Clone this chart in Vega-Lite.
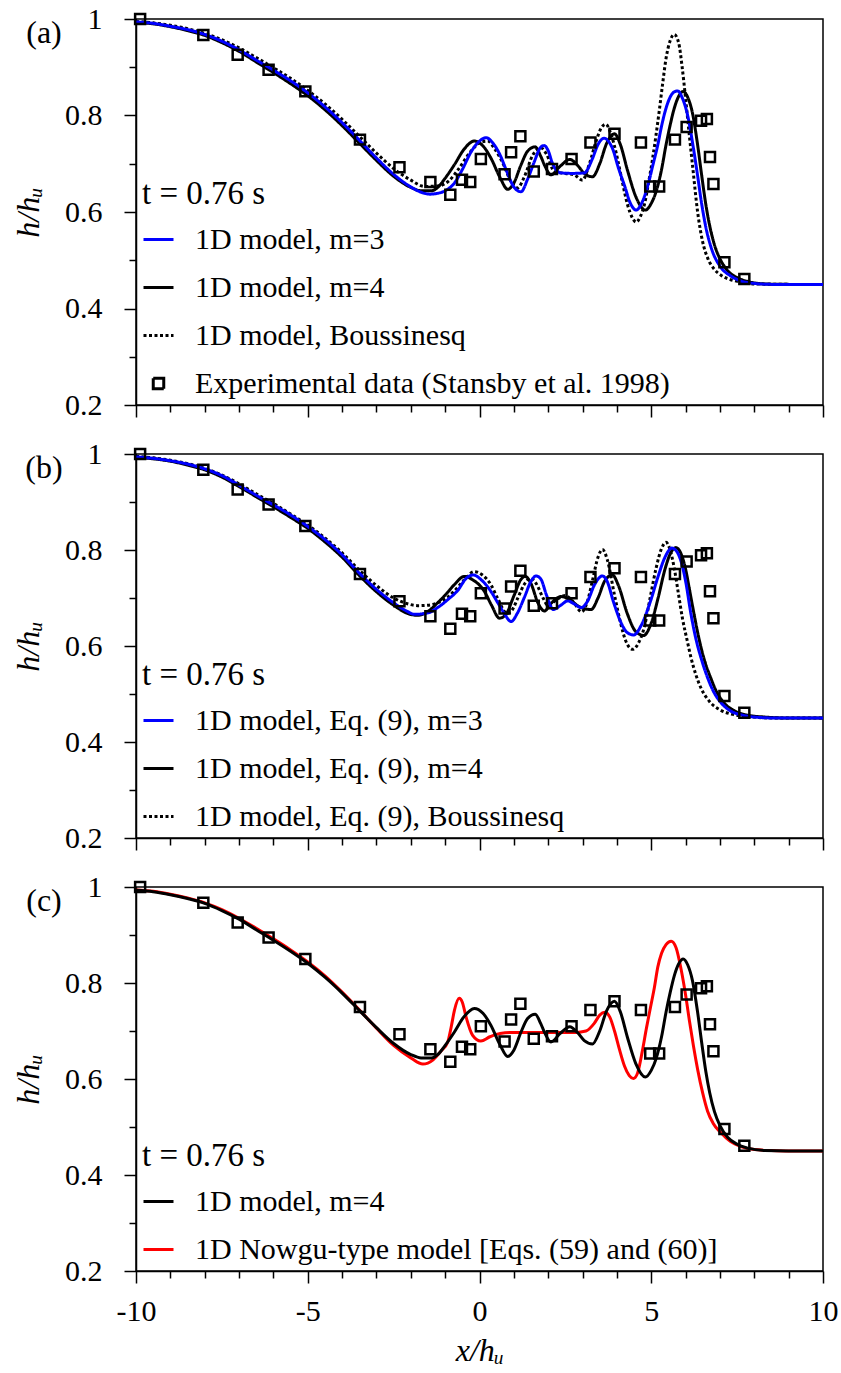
{
  "$schema": "https://vega.github.io/schema/vega-lite/v6.json",
  "padding": {"left": 11, "top": 3, "right": 0, "bottom": 0},
  "bounds": "flush",
  "spacing": 49,
  "resolve": {
    "scale": {"stroke": "independent", "strokeDash": "independent", "shape": "independent"},
    "legend": {"stroke": "independent", "strokeDash": "independent", "shape": "independent"}
  },
  "datasets": {
    "bqa": [
      {"s":"1D model, Boussinesq","x":-10,"h":0.995},{"s":"1D model, Boussinesq","x":-9.5,"h":0.992},{"s":"1D model, Boussinesq","x":-9,"h":0.987},{"s":"1D model, Boussinesq","x":-8.5,"h":0.98},{"s":"1D model, Boussinesq","x":-8,"h":0.97},{"s":"1D model, Boussinesq","x":-7.5,"h":0.957},{"s":"1D model, Boussinesq","x":-7,"h":0.94},{"s":"1D model, Boussinesq","x":-6.5,"h":0.92},{"s":"1D model, Boussinesq","x":-6,"h":0.899},{"s":"1D model, Boussinesq","x":-5.5,"h":0.877},{"s":"1D model, Boussinesq","x":-5,"h":0.852},{"s":"1D model, Boussinesq","x":-4.5,"h":0.824},{"s":"1D model, Boussinesq","x":-4,"h":0.792},{"s":"1D model, Boussinesq","x":-3.5,"h":0.757},{"s":"1D model, Boussinesq","x":-3,"h":0.722},{"s":"1D model, Boussinesq","x":-2.5,"h":0.69},{"s":"1D model, Boussinesq","x":-2,"h":0.666},{"s":"1D model, Boussinesq","x":-1.6,"h":0.653},{"s":"1D model, Boussinesq","x":-1.2,"h":0.654},{"s":"1D model, Boussinesq","x":-0.9,"h":0.664},{"s":"1D model, Boussinesq","x":-0.6,"h":0.69},{"s":"1D model, Boussinesq","x":-0.25,"h":0.726},{"s":"1D model, Boussinesq","x":0.05,"h":0.745},{"s":"1D model, Boussinesq","x":0.24,"h":0.747},{"s":"1D model, Boussinesq","x":0.45,"h":0.73},{"s":"1D model, Boussinesq","x":0.72,"h":0.695},{"s":"1D model, Boussinesq","x":0.9,"h":0.665},{"s":"1D model, Boussinesq","x":1.11,"h":0.65},{"s":"1D model, Boussinesq","x":1.3,"h":0.672},{"s":"1D model, Boussinesq","x":1.55,"h":0.718},{"s":"1D model, Boussinesq","x":1.79,"h":0.733},{"s":"1D model, Boussinesq","x":1.95,"h":0.72},{"s":"1D model, Boussinesq","x":2.18,"h":0.684},{"s":"1D model, Boussinesq","x":2.5,"h":0.68},{"s":"1D model, Boussinesq","x":2.76,"h":0.677},{"s":"1D model, Boussinesq","x":3.0,"h":0.666},{"s":"1D model, Boussinesq","x":3.2,"h":0.7},{"s":"1D model, Boussinesq","x":3.4,"h":0.748},{"s":"1D model, Boussinesq","x":3.55,"h":0.775},{"s":"1D model, Boussinesq","x":3.68,"h":0.782},{"s":"1D model, Boussinesq","x":3.82,"h":0.763},{"s":"1D model, Boussinesq","x":3.97,"h":0.725},{"s":"1D model, Boussinesq","x":4.15,"h":0.665},{"s":"1D model, Boussinesq","x":4.31,"h":0.615},{"s":"1D model, Boussinesq","x":4.45,"h":0.588},{"s":"1D model, Boussinesq","x":4.56,"h":0.579},{"s":"1D model, Boussinesq","x":4.68,"h":0.59},{"s":"1D model, Boussinesq","x":4.8,"h":0.615},{"s":"1D model, Boussinesq","x":4.92,"h":0.66},{"s":"1D model, Boussinesq","x":5.04,"h":0.711},{"s":"1D model, Boussinesq","x":5.14,"h":0.76},{"s":"1D model, Boussinesq","x":5.23,"h":0.808},{"s":"1D model, Boussinesq","x":5.33,"h":0.865},{"s":"1D model, Boussinesq","x":5.43,"h":0.918},{"s":"1D model, Boussinesq","x":5.55,"h":0.955},{"s":"1D model, Boussinesq","x":5.67,"h":0.968},{"s":"1D model, Boussinesq","x":5.8,"h":0.95},{"s":"1D model, Boussinesq","x":5.9,"h":0.9},{"s":"1D model, Boussinesq","x":6.0,"h":0.835},{"s":"1D model, Boussinesq","x":6.1,"h":0.765},{"s":"1D model, Boussinesq","x":6.21,"h":0.691},{"s":"1D model, Boussinesq","x":6.35,"h":0.6},{"s":"1D model, Boussinesq","x":6.5,"h":0.537},{"s":"1D model, Boussinesq","x":6.64,"h":0.505},{"s":"1D model, Boussinesq","x":6.84,"h":0.481},{"s":"1D model, Boussinesq","x":7.03,"h":0.469},{"s":"1D model, Boussinesq","x":7.3,"h":0.46},{"s":"1D model, Boussinesq","x":7.61,"h":0.455},{"s":"1D model, Boussinesq","x":8,"h":0.451},{"s":"1D model, Boussinesq","x":9,"h":0.45},{"s":"1D model, Boussinesq","x":10,"h":0.45}
    ],
    "m4": [
      {"s":"1D model, m=4","x":-10,"h":0.993},{"s":"1D model, m=4","x":-9.5,"h":0.99},{"s":"1D model, m=4","x":-9,"h":0.984},{"s":"1D model, m=4","x":-8.5,"h":0.976},{"s":"1D model, m=4","x":-8,"h":0.966},{"s":"1D model, m=4","x":-7.5,"h":0.951},{"s":"1D model, m=4","x":-7,"h":0.933},{"s":"1D model, m=4","x":-6.5,"h":0.911},{"s":"1D model, m=4","x":-6,"h":0.889},{"s":"1D model, m=4","x":-5.5,"h":0.866},{"s":"1D model, m=4","x":-5,"h":0.841},{"s":"1D model, m=4","x":-4.5,"h":0.812},{"s":"1D model, m=4","x":-4,"h":0.779},{"s":"1D model, m=4","x":-3.5,"h":0.743},{"s":"1D model, m=4","x":-3,"h":0.707},{"s":"1D model, m=4","x":-2.5,"h":0.674},{"s":"1D model, m=4","x":-2,"h":0.651},{"s":"1D model, m=4","x":-1.7,"h":0.644},{"s":"1D model, m=4","x":-1.4,"h":0.644},{"s":"1D model, m=4","x":-1.2,"h":0.652},{"s":"1D model, m=4","x":-1.0,"h":0.67},{"s":"1D model, m=4","x":-0.73,"h":0.698},{"s":"1D model, m=4","x":-0.45,"h":0.73},{"s":"1D model, m=4","x":-0.15,"h":0.747},{"s":"1D model, m=4","x":0.1,"h":0.737},{"s":"1D model, m=4","x":0.33,"h":0.712},{"s":"1D model, m=4","x":0.6,"h":0.671},{"s":"1D model, m=4","x":0.82,"h":0.647},{"s":"1D model, m=4","x":1.0,"h":0.66},{"s":"1D model, m=4","x":1.21,"h":0.698},{"s":"1D model, m=4","x":1.4,"h":0.726},{"s":"1D model, m=4","x":1.62,"h":0.735},{"s":"1D model, m=4","x":1.78,"h":0.716},{"s":"1D model, m=4","x":1.9,"h":0.696},{"s":"1D model, m=4","x":2.08,"h":0.677},{"s":"1D model, m=4","x":2.35,"h":0.695},{"s":"1D model, m=4","x":2.63,"h":0.709},{"s":"1D model, m=4","x":2.85,"h":0.697},{"s":"1D model, m=4","x":3.05,"h":0.68},{"s":"1D model, m=4","x":3.29,"h":0.673},{"s":"1D model, m=4","x":3.5,"h":0.7},{"s":"1D model, m=4","x":3.7,"h":0.742},{"s":"1D model, m=4","x":3.93,"h":0.762},{"s":"1D model, m=4","x":4.1,"h":0.74},{"s":"1D model, m=4","x":4.31,"h":0.686},{"s":"1D model, m=4","x":4.55,"h":0.632},{"s":"1D model, m=4","x":4.83,"h":0.604},{"s":"1D model, m=4","x":5.0,"h":0.618},{"s":"1D model, m=4","x":5.14,"h":0.642},{"s":"1D model, m=4","x":5.3,"h":0.688},{"s":"1D model, m=4","x":5.43,"h":0.739},{"s":"1D model, m=4","x":5.55,"h":0.78},{"s":"1D model, m=4","x":5.67,"h":0.815},{"s":"1D model, m=4","x":5.8,"h":0.84},{"s":"1D model, m=4","x":5.93,"h":0.85},{"s":"1D model, m=4","x":6.06,"h":0.838},{"s":"1D model, m=4","x":6.2,"h":0.805},{"s":"1D model, m=4","x":6.35,"h":0.739},{"s":"1D model, m=4","x":6.47,"h":0.675},{"s":"1D model, m=4","x":6.59,"h":0.615},{"s":"1D model, m=4","x":6.7,"h":0.572},{"s":"1D model, m=4","x":6.84,"h":0.532},{"s":"1D model, m=4","x":7.0,"h":0.503},{"s":"1D model, m=4","x":7.23,"h":0.478},{"s":"1D model, m=4","x":7.5,"h":0.464},{"s":"1D model, m=4","x":7.81,"h":0.456},{"s":"1D model, m=4","x":8.3,"h":0.451},{"s":"1D model, m=4","x":9,"h":0.45},{"s":"1D model, m=4","x":10,"h":0.45}
    ],
    "m3a": [
      {"s":"1D model, m=3","x":-10,"h":0.994},{"s":"1D model, m=3","x":-9.5,"h":0.991},{"s":"1D model, m=3","x":-9,"h":0.985},{"s":"1D model, m=3","x":-8.5,"h":0.978},{"s":"1D model, m=3","x":-8,"h":0.968},{"s":"1D model, m=3","x":-7.5,"h":0.954},{"s":"1D model, m=3","x":-7,"h":0.936},{"s":"1D model, m=3","x":-6.5,"h":0.915},{"s":"1D model, m=3","x":-6,"h":0.894},{"s":"1D model, m=3","x":-5.5,"h":0.872},{"s":"1D model, m=3","x":-5,"h":0.847},{"s":"1D model, m=3","x":-4.5,"h":0.818},{"s":"1D model, m=3","x":-4,"h":0.785},{"s":"1D model, m=3","x":-3.5,"h":0.749},{"s":"1D model, m=3","x":-3,"h":0.712},{"s":"1D model, m=3","x":-2.5,"h":0.678},{"s":"1D model, m=3","x":-2,"h":0.652},{"s":"1D model, m=3","x":-1.7,"h":0.641},{"s":"1D model, m=3","x":-1.45,"h":0.637},{"s":"1D model, m=3","x":-1.2,"h":0.639},{"s":"1D model, m=3","x":-0.95,"h":0.646},{"s":"1D model, m=3","x":-0.73,"h":0.66},{"s":"1D model, m=3","x":-0.5,"h":0.688},{"s":"1D model, m=3","x":-0.25,"h":0.724},{"s":"1D model, m=3","x":0,"h":0.747},{"s":"1D model, m=3","x":0.19,"h":0.754},{"s":"1D model, m=3","x":0.4,"h":0.742},{"s":"1D model, m=3","x":0.6,"h":0.718},{"s":"1D model, m=3","x":0.8,"h":0.683},{"s":"1D model, m=3","x":1.0,"h":0.652},{"s":"1D model, m=3","x":1.21,"h":0.642},{"s":"1D model, m=3","x":1.4,"h":0.668},{"s":"1D model, m=3","x":1.6,"h":0.705},{"s":"1D model, m=3","x":1.75,"h":0.731},{"s":"1D model, m=3","x":1.88,"h":0.738},{"s":"1D model, m=3","x":2.0,"h":0.727},{"s":"1D model, m=3","x":2.13,"h":0.7},{"s":"1D model, m=3","x":2.37,"h":0.681},{"s":"1D model, m=3","x":2.7,"h":0.68},{"s":"1D model, m=3","x":3.05,"h":0.681},{"s":"1D model, m=3","x":3.29,"h":0.711},{"s":"1D model, m=3","x":3.45,"h":0.74},{"s":"1D model, m=3","x":3.63,"h":0.753},{"s":"1D model, m=3","x":3.78,"h":0.744},{"s":"1D model, m=3","x":3.87,"h":0.732},{"s":"1D model, m=3","x":4.05,"h":0.69},{"s":"1D model, m=3","x":4.22,"h":0.655},{"s":"1D model, m=3","x":4.4,"h":0.617},{"s":"1D model, m=3","x":4.56,"h":0.604},{"s":"1D model, m=3","x":4.72,"h":0.618},{"s":"1D model, m=3","x":4.9,"h":0.655},{"s":"1D model, m=3","x":5.05,"h":0.698},{"s":"1D model, m=3","x":5.19,"h":0.739},{"s":"1D model, m=3","x":5.3,"h":0.778},{"s":"1D model, m=3","x":5.43,"h":0.815},{"s":"1D model, m=3","x":5.55,"h":0.838},{"s":"1D model, m=3","x":5.67,"h":0.849},{"s":"1D model, m=3","x":5.77,"h":0.851},{"s":"1D model, m=3","x":5.9,"h":0.837},{"s":"1D model, m=3","x":6.06,"h":0.8},{"s":"1D model, m=3","x":6.21,"h":0.74},{"s":"1D model, m=3","x":6.35,"h":0.675},{"s":"1D model, m=3","x":6.45,"h":0.625},{"s":"1D model, m=3","x":6.6,"h":0.565},{"s":"1D model, m=3","x":6.75,"h":0.525},{"s":"1D model, m=3","x":7.03,"h":0.485},{"s":"1D model, m=3","x":7.3,"h":0.468},{"s":"1D model, m=3","x":7.61,"h":0.457},{"s":"1D model, m=3","x":8,"h":0.452},{"s":"1D model, m=3","x":8.5,"h":0.45},{"s":"1D model, m=3","x":10,"h":0.45}
    ],
    "bqb": [
      {"s":"1D model, Eq. (9), Boussinesq","x":-10,"h":0.995},{"s":"1D model, Eq. (9), Boussinesq","x":-9.5,"h":0.992},{"s":"1D model, Eq. (9), Boussinesq","x":-9,"h":0.987},{"s":"1D model, Eq. (9), Boussinesq","x":-8.5,"h":0.98},{"s":"1D model, Eq. (9), Boussinesq","x":-8,"h":0.97},{"s":"1D model, Eq. (9), Boussinesq","x":-7.5,"h":0.956},{"s":"1D model, Eq. (9), Boussinesq","x":-7,"h":0.938},{"s":"1D model, Eq. (9), Boussinesq","x":-6.5,"h":0.917},{"s":"1D model, Eq. (9), Boussinesq","x":-6,"h":0.897},{"s":"1D model, Eq. (9), Boussinesq","x":-5.5,"h":0.875},{"s":"1D model, Eq. (9), Boussinesq","x":-5,"h":0.852},{"s":"1D model, Eq. (9), Boussinesq","x":-4.5,"h":0.825},{"s":"1D model, Eq. (9), Boussinesq","x":-4,"h":0.794},{"s":"1D model, Eq. (9), Boussinesq","x":-3.5,"h":0.758},{"s":"1D model, Eq. (9), Boussinesq","x":-3,"h":0.726},{"s":"1D model, Eq. (9), Boussinesq","x":-2.5,"h":0.7},{"s":"1D model, Eq. (9), Boussinesq","x":-2.1,"h":0.688},{"s":"1D model, Eq. (9), Boussinesq","x":-1.8,"h":0.684},{"s":"1D model, Eq. (9), Boussinesq","x":-1.5,"h":0.685},{"s":"1D model, Eq. (9), Boussinesq","x":-1.22,"h":0.69},{"s":"1D model, Eq. (9), Boussinesq","x":-0.95,"h":0.7},{"s":"1D model, Eq. (9), Boussinesq","x":-0.73,"h":0.715},{"s":"1D model, Eq. (9), Boussinesq","x":-0.44,"h":0.738},{"s":"1D model, Eq. (9), Boussinesq","x":-0.15,"h":0.755},{"s":"1D model, Eq. (9), Boussinesq","x":0.1,"h":0.747},{"s":"1D model, Eq. (9), Boussinesq","x":0.33,"h":0.728},{"s":"1D model, Eq. (9), Boussinesq","x":0.53,"h":0.699},{"s":"1D model, Eq. (9), Boussinesq","x":0.8,"h":0.668},{"s":"1D model, Eq. (9), Boussinesq","x":0.95,"h":0.675},{"s":"1D model, Eq. (9), Boussinesq","x":1.11,"h":0.699},{"s":"1D model, Eq. (9), Boussinesq","x":1.3,"h":0.728},{"s":"1D model, Eq. (9), Boussinesq","x":1.48,"h":0.741},{"s":"1D model, Eq. (9), Boussinesq","x":1.65,"h":0.73},{"s":"1D model, Eq. (9), Boussinesq","x":1.85,"h":0.7},{"s":"1D model, Eq. (9), Boussinesq","x":2.0,"h":0.684},{"s":"1D model, Eq. (9), Boussinesq","x":2.25,"h":0.697},{"s":"1D model, Eq. (9), Boussinesq","x":2.5,"h":0.705},{"s":"1D model, Eq. (9), Boussinesq","x":2.75,"h":0.69},{"s":"1D model, Eq. (9), Boussinesq","x":2.97,"h":0.671},{"s":"1D model, Eq. (9), Boussinesq","x":3.15,"h":0.695},{"s":"1D model, Eq. (9), Boussinesq","x":3.3,"h":0.74},{"s":"1D model, Eq. (9), Boussinesq","x":3.45,"h":0.785},{"s":"1D model, Eq. (9), Boussinesq","x":3.58,"h":0.801},{"s":"1D model, Eq. (9), Boussinesq","x":3.72,"h":0.78},{"s":"1D model, Eq. (9), Boussinesq","x":3.93,"h":0.706},{"s":"1D model, Eq. (9), Boussinesq","x":4.1,"h":0.65},{"s":"1D model, Eq. (9), Boussinesq","x":4.25,"h":0.612},{"s":"1D model, Eq. (9), Boussinesq","x":4.46,"h":0.593},{"s":"1D model, Eq. (9), Boussinesq","x":4.62,"h":0.605},{"s":"1D model, Eq. (9), Boussinesq","x":4.8,"h":0.64},{"s":"1D model, Eq. (9), Boussinesq","x":4.98,"h":0.705},{"s":"1D model, Eq. (9), Boussinesq","x":5.14,"h":0.762},{"s":"1D model, Eq. (9), Boussinesq","x":5.3,"h":0.803},{"s":"1D model, Eq. (9), Boussinesq","x":5.43,"h":0.816},{"s":"1D model, Eq. (9), Boussinesq","x":5.55,"h":0.8},{"s":"1D model, Eq. (9), Boussinesq","x":5.67,"h":0.762},{"s":"1D model, Eq. (9), Boussinesq","x":5.8,"h":0.705},{"s":"1D model, Eq. (9), Boussinesq","x":5.91,"h":0.657},{"s":"1D model, Eq. (9), Boussinesq","x":6.05,"h":0.61},{"s":"1D model, Eq. (9), Boussinesq","x":6.16,"h":0.575},{"s":"1D model, Eq. (9), Boussinesq","x":6.3,"h":0.54},{"s":"1D model, Eq. (9), Boussinesq","x":6.45,"h":0.512},{"s":"1D model, Eq. (9), Boussinesq","x":6.7,"h":0.484},{"s":"1D model, Eq. (9), Boussinesq","x":7.03,"h":0.466},{"s":"1D model, Eq. (9), Boussinesq","x":7.4,"h":0.457},{"s":"1D model, Eq. (9), Boussinesq","x":7.8,"h":0.453},{"s":"1D model, Eq. (9), Boussinesq","x":8.5,"h":0.45},{"s":"1D model, Eq. (9), Boussinesq","x":10,"h":0.45}
    ],
    "m4b": [
      {"s":"1D model, Eq. (9), m=4","x":-10,"h":0.993},{"s":"1D model, Eq. (9), m=4","x":-9.5,"h":0.99},{"s":"1D model, Eq. (9), m=4","x":-9,"h":0.985},{"s":"1D model, Eq. (9), m=4","x":-8.5,"h":0.977},{"s":"1D model, Eq. (9), m=4","x":-8,"h":0.967},{"s":"1D model, Eq. (9), m=4","x":-7.5,"h":0.952},{"s":"1D model, Eq. (9), m=4","x":-7,"h":0.932},{"s":"1D model, Eq. (9), m=4","x":-6.5,"h":0.911},{"s":"1D model, Eq. (9), m=4","x":-6,"h":0.89},{"s":"1D model, Eq. (9), m=4","x":-5.5,"h":0.868},{"s":"1D model, Eq. (9), m=4","x":-5,"h":0.845},{"s":"1D model, Eq. (9), m=4","x":-4.5,"h":0.817},{"s":"1D model, Eq. (9), m=4","x":-4,"h":0.785},{"s":"1D model, Eq. (9), m=4","x":-3.5,"h":0.747},{"s":"1D model, Eq. (9), m=4","x":-3,"h":0.713},{"s":"1D model, Eq. (9), m=4","x":-2.5,"h":0.685},{"s":"1D model, Eq. (9), m=4","x":-2.1,"h":0.668},{"s":"1D model, Eq. (9), m=4","x":-1.8,"h":0.664},{"s":"1D model, Eq. (9), m=4","x":-1.5,"h":0.672},{"s":"1D model, Eq. (9), m=4","x":-1.22,"h":0.69},{"s":"1D model, Eq. (9), m=4","x":-0.95,"h":0.71},{"s":"1D model, Eq. (9), m=4","x":-0.73,"h":0.728},{"s":"1D model, Eq. (9), m=4","x":-0.44,"h":0.745},{"s":"1D model, Eq. (9), m=4","x":-0.2,"h":0.738},{"s":"1D model, Eq. (9), m=4","x":0.14,"h":0.714},{"s":"1D model, Eq. (9), m=4","x":0.35,"h":0.685},{"s":"1D model, Eq. (9), m=4","x":0.58,"h":0.658},{"s":"1D model, Eq. (9), m=4","x":0.75,"h":0.664},{"s":"1D model, Eq. (9), m=4","x":1.01,"h":0.706},{"s":"1D model, Eq. (9), m=4","x":1.2,"h":0.738},{"s":"1D model, Eq. (9), m=4","x":1.33,"h":0.745},{"s":"1D model, Eq. (9), m=4","x":1.5,"h":0.73},{"s":"1D model, Eq. (9), m=4","x":1.7,"h":0.69},{"s":"1D model, Eq. (9), m=4","x":1.89,"h":0.673},{"s":"1D model, Eq. (9), m=4","x":2.1,"h":0.69},{"s":"1D model, Eq. (9), m=4","x":2.37,"h":0.703},{"s":"1D model, Eq. (9), m=4","x":2.6,"h":0.698},{"s":"1D model, Eq. (9), m=4","x":2.9,"h":0.682},{"s":"1D model, Eq. (9), m=4","x":3.25,"h":0.676},{"s":"1D model, Eq. (9), m=4","x":3.45,"h":0.7},{"s":"1D model, Eq. (9), m=4","x":3.65,"h":0.736},{"s":"1D model, Eq. (9), m=4","x":3.87,"h":0.748},{"s":"1D model, Eq. (9), m=4","x":4.05,"h":0.725},{"s":"1D model, Eq. (9), m=4","x":4.3,"h":0.668},{"s":"1D model, Eq. (9), m=4","x":4.55,"h":0.63},{"s":"1D model, Eq. (9), m=4","x":4.78,"h":0.622},{"s":"1D model, Eq. (9), m=4","x":5.0,"h":0.648},{"s":"1D model, Eq. (9), m=4","x":5.2,"h":0.7},{"s":"1D model, Eq. (9), m=4","x":5.4,"h":0.76},{"s":"1D model, Eq. (9), m=4","x":5.58,"h":0.796},{"s":"1D model, Eq. (9), m=4","x":5.72,"h":0.805},{"s":"1D model, Eq. (9), m=4","x":5.85,"h":0.795},{"s":"1D model, Eq. (9), m=4","x":6.0,"h":0.76},{"s":"1D model, Eq. (9), m=4","x":6.12,"h":0.715},{"s":"1D model, Eq. (9), m=4","x":6.25,"h":0.665},{"s":"1D model, Eq. (9), m=4","x":6.4,"h":0.612},{"s":"1D model, Eq. (9), m=4","x":6.55,"h":0.57},{"s":"1D model, Eq. (9), m=4","x":6.74,"h":0.532},{"s":"1D model, Eq. (9), m=4","x":6.9,"h":0.505},{"s":"1D model, Eq. (9), m=4","x":7.1,"h":0.483},{"s":"1D model, Eq. (9), m=4","x":7.42,"h":0.465},{"s":"1D model, Eq. (9), m=4","x":7.8,"h":0.456},{"s":"1D model, Eq. (9), m=4","x":8.3,"h":0.452},{"s":"1D model, Eq. (9), m=4","x":9,"h":0.45},{"s":"1D model, Eq. (9), m=4","x":10,"h":0.45}
    ],
    "m3b": [
      {"s":"1D model, Eq. (9), m=3","x":-10,"h":0.994},{"s":"1D model, Eq. (9), m=3","x":-9.5,"h":0.991},{"s":"1D model, Eq. (9), m=3","x":-9,"h":0.986},{"s":"1D model, Eq. (9), m=3","x":-8.5,"h":0.979},{"s":"1D model, Eq. (9), m=3","x":-8,"h":0.969},{"s":"1D model, Eq. (9), m=3","x":-7.5,"h":0.955},{"s":"1D model, Eq. (9), m=3","x":-7,"h":0.935},{"s":"1D model, Eq. (9), m=3","x":-6.5,"h":0.914},{"s":"1D model, Eq. (9), m=3","x":-6,"h":0.894},{"s":"1D model, Eq. (9), m=3","x":-5.5,"h":0.873},{"s":"1D model, Eq. (9), m=3","x":-5,"h":0.849},{"s":"1D model, Eq. (9), m=3","x":-4.5,"h":0.822},{"s":"1D model, Eq. (9), m=3","x":-4,"h":0.79},{"s":"1D model, Eq. (9), m=3","x":-3.5,"h":0.752},{"s":"1D model, Eq. (9), m=3","x":-3,"h":0.718},{"s":"1D model, Eq. (9), m=3","x":-2.5,"h":0.69},{"s":"1D model, Eq. (9), m=3","x":-2.1,"h":0.672},{"s":"1D model, Eq. (9), m=3","x":-1.9,"h":0.666},{"s":"1D model, Eq. (9), m=3","x":-1.5,"h":0.669},{"s":"1D model, Eq. (9), m=3","x":-1.22,"h":0.68},{"s":"1D model, Eq. (9), m=3","x":-0.9,"h":0.698},{"s":"1D model, Eq. (9), m=3","x":-0.63,"h":0.716},{"s":"1D model, Eq. (9), m=3","x":-0.4,"h":0.74},{"s":"1D model, Eq. (9), m=3","x":-0.18,"h":0.748},{"s":"1D model, Eq. (9), m=3","x":0.05,"h":0.738},{"s":"1D model, Eq. (9), m=3","x":0.33,"h":0.714},{"s":"1D model, Eq. (9), m=3","x":0.55,"h":0.688},{"s":"1D model, Eq. (9), m=3","x":0.72,"h":0.668},{"s":"1D model, Eq. (9), m=3","x":0.92,"h":0.651},{"s":"1D model, Eq. (9), m=3","x":1.1,"h":0.668},{"s":"1D model, Eq. (9), m=3","x":1.31,"h":0.702},{"s":"1D model, Eq. (9), m=3","x":1.5,"h":0.735},{"s":"1D model, Eq. (9), m=3","x":1.65,"h":0.746},{"s":"1D model, Eq. (9), m=3","x":1.79,"h":0.739},{"s":"1D model, Eq. (9), m=3","x":1.95,"h":0.706},{"s":"1D model, Eq. (9), m=3","x":2.15,"h":0.676},{"s":"1D model, Eq. (9), m=3","x":2.35,"h":0.684},{"s":"1D model, Eq. (9), m=3","x":2.57,"h":0.694},{"s":"1D model, Eq. (9), m=3","x":2.75,"h":0.688},{"s":"1D model, Eq. (9), m=3","x":2.96,"h":0.68},{"s":"1D model, Eq. (9), m=3","x":3.15,"h":0.694},{"s":"1D model, Eq. (9), m=3","x":3.35,"h":0.728},{"s":"1D model, Eq. (9), m=3","x":3.58,"h":0.746},{"s":"1D model, Eq. (9), m=3","x":3.72,"h":0.734},{"s":"1D model, Eq. (9), m=3","x":3.9,"h":0.692},{"s":"1D model, Eq. (9), m=3","x":4.1,"h":0.652},{"s":"1D model, Eq. (9), m=3","x":4.3,"h":0.628},{"s":"1D model, Eq. (9), m=3","x":4.49,"h":0.623},{"s":"1D model, Eq. (9), m=3","x":4.7,"h":0.642},{"s":"1D model, Eq. (9), m=3","x":4.99,"h":0.696},{"s":"1D model, Eq. (9), m=3","x":5.2,"h":0.745},{"s":"1D model, Eq. (9), m=3","x":5.4,"h":0.785},{"s":"1D model, Eq. (9), m=3","x":5.6,"h":0.804},{"s":"1D model, Eq. (9), m=3","x":5.75,"h":0.796},{"s":"1D model, Eq. (9), m=3","x":5.9,"h":0.768},{"s":"1D model, Eq. (9), m=3","x":6.0,"h":0.735},{"s":"1D model, Eq. (9), m=3","x":6.16,"h":0.665},{"s":"1D model, Eq. (9), m=3","x":6.3,"h":0.615},{"s":"1D model, Eq. (9), m=3","x":6.45,"h":0.575},{"s":"1D model, Eq. (9), m=3","x":6.64,"h":0.534},{"s":"1D model, Eq. (9), m=3","x":6.8,"h":0.507},{"s":"1D model, Eq. (9), m=3","x":7.03,"h":0.482},{"s":"1D model, Eq. (9), m=3","x":7.3,"h":0.465},{"s":"1D model, Eq. (9), m=3","x":7.6,"h":0.457},{"s":"1D model, Eq. (9), m=3","x":8,"h":0.452},{"s":"1D model, Eq. (9), m=3","x":8.6,"h":0.45},{"s":"1D model, Eq. (9), m=3","x":10,"h":0.45}
    ],
    "red": [
      {"s":"1D Nowgu-type model [Eqs. (59) and (60)]","x":-10,"h":0.994},{"s":"1D Nowgu-type model [Eqs. (59) and (60)]","x":-9.5,"h":0.991},{"s":"1D Nowgu-type model [Eqs. (59) and (60)]","x":-9,"h":0.985},{"s":"1D Nowgu-type model [Eqs. (59) and (60)]","x":-8.5,"h":0.977},{"s":"1D Nowgu-type model [Eqs. (59) and (60)]","x":-8,"h":0.967},{"s":"1D Nowgu-type model [Eqs. (59) and (60)]","x":-7.5,"h":0.953},{"s":"1D Nowgu-type model [Eqs. (59) and (60)]","x":-7,"h":0.935},{"s":"1D Nowgu-type model [Eqs. (59) and (60)]","x":-6.5,"h":0.914},{"s":"1D Nowgu-type model [Eqs. (59) and (60)]","x":-6,"h":0.892},{"s":"1D Nowgu-type model [Eqs. (59) and (60)]","x":-5.5,"h":0.869},{"s":"1D Nowgu-type model [Eqs. (59) and (60)]","x":-5,"h":0.844},{"s":"1D Nowgu-type model [Eqs. (59) and (60)]","x":-4.5,"h":0.815},{"s":"1D Nowgu-type model [Eqs. (59) and (60)]","x":-4,"h":0.781},{"s":"1D Nowgu-type model [Eqs. (59) and (60)]","x":-3.5,"h":0.744},{"s":"1D Nowgu-type model [Eqs. (59) and (60)]","x":-3,"h":0.706},{"s":"1D Nowgu-type model [Eqs. (59) and (60)]","x":-2.5,"h":0.67},{"s":"1D Nowgu-type model [Eqs. (59) and (60)]","x":-2,"h":0.644},{"s":"1D Nowgu-type model [Eqs. (59) and (60)]","x":-1.65,"h":0.631},{"s":"1D Nowgu-type model [Eqs. (59) and (60)]","x":-1.35,"h":0.64},{"s":"1D Nowgu-type model [Eqs. (59) and (60)]","x":-1.1,"h":0.66},{"s":"1D Nowgu-type model [Eqs. (59) and (60)]","x":-0.93,"h":0.676},{"s":"1D Nowgu-type model [Eqs. (59) and (60)]","x":-0.82,"h":0.71},{"s":"1D Nowgu-type model [Eqs. (59) and (60)]","x":-0.73,"h":0.743},{"s":"1D Nowgu-type model [Eqs. (59) and (60)]","x":-0.59,"h":0.768},{"s":"1D Nowgu-type model [Eqs. (59) and (60)]","x":-0.5,"h":0.76},{"s":"1D Nowgu-type model [Eqs. (59) and (60)]","x":-0.39,"h":0.729},{"s":"1D Nowgu-type model [Eqs. (59) and (60)]","x":-0.2,"h":0.691},{"s":"1D Nowgu-type model [Eqs. (59) and (60)]","x":0.04,"h":0.679},{"s":"1D Nowgu-type model [Eqs. (59) and (60)]","x":0.3,"h":0.688},{"s":"1D Nowgu-type model [Eqs. (59) and (60)]","x":0.6,"h":0.695},{"s":"1D Nowgu-type model [Eqs. (59) and (60)]","x":1.0,"h":0.697},{"s":"1D Nowgu-type model [Eqs. (59) and (60)]","x":2.0,"h":0.697},{"s":"1D Nowgu-type model [Eqs. (59) and (60)]","x":2.8,"h":0.697},{"s":"1D Nowgu-type model [Eqs. (59) and (60)]","x":3.1,"h":0.7},{"s":"1D Nowgu-type model [Eqs. (59) and (60)]","x":3.34,"h":0.716},{"s":"1D Nowgu-type model [Eqs. (59) and (60)]","x":3.5,"h":0.733},{"s":"1D Nowgu-type model [Eqs. (59) and (60)]","x":3.65,"h":0.739},{"s":"1D Nowgu-type model [Eqs. (59) and (60)]","x":3.8,"h":0.728},{"s":"1D Nowgu-type model [Eqs. (59) and (60)]","x":3.93,"h":0.7},{"s":"1D Nowgu-type model [Eqs. (59) and (60)]","x":4.08,"h":0.66},{"s":"1D Nowgu-type model [Eqs. (59) and (60)]","x":4.22,"h":0.627},{"s":"1D Nowgu-type model [Eqs. (59) and (60)]","x":4.36,"h":0.607},{"s":"1D Nowgu-type model [Eqs. (59) and (60)]","x":4.48,"h":0.601},{"s":"1D Nowgu-type model [Eqs. (59) and (60)]","x":4.6,"h":0.612},{"s":"1D Nowgu-type model [Eqs. (59) and (60)]","x":4.74,"h":0.658},{"s":"1D Nowgu-type model [Eqs. (59) and (60)]","x":4.86,"h":0.706},{"s":"1D Nowgu-type model [Eqs. (59) and (60)]","x":4.98,"h":0.75},{"s":"1D Nowgu-type model [Eqs. (59) and (60)]","x":5.09,"h":0.79},{"s":"1D Nowgu-type model [Eqs. (59) and (60)]","x":5.19,"h":0.833},{"s":"1D Nowgu-type model [Eqs. (59) and (60)]","x":5.3,"h":0.862},{"s":"1D Nowgu-type model [Eqs. (59) and (60)]","x":5.43,"h":0.88},{"s":"1D Nowgu-type model [Eqs. (59) and (60)]","x":5.58,"h":0.887},{"s":"1D Nowgu-type model [Eqs. (59) and (60)]","x":5.72,"h":0.874},{"s":"1D Nowgu-type model [Eqs. (59) and (60)]","x":5.87,"h":0.828},{"s":"1D Nowgu-type model [Eqs. (59) and (60)]","x":6.0,"h":0.775},{"s":"1D Nowgu-type model [Eqs. (59) and (60)]","x":6.11,"h":0.722},{"s":"1D Nowgu-type model [Eqs. (59) and (60)]","x":6.23,"h":0.668},{"s":"1D Nowgu-type model [Eqs. (59) and (60)]","x":6.35,"h":0.62},{"s":"1D Nowgu-type model [Eqs. (59) and (60)]","x":6.5,"h":0.57},{"s":"1D Nowgu-type model [Eqs. (59) and (60)]","x":6.64,"h":0.533},{"s":"1D Nowgu-type model [Eqs. (59) and (60)]","x":6.8,"h":0.508},{"s":"1D Nowgu-type model [Eqs. (59) and (60)]","x":7.03,"h":0.488},{"s":"1D Nowgu-type model [Eqs. (59) and (60)]","x":7.3,"h":0.47},{"s":"1D Nowgu-type model [Eqs. (59) and (60)]","x":7.61,"h":0.459},{"s":"1D Nowgu-type model [Eqs. (59) and (60)]","x":8,"h":0.453},{"s":"1D Nowgu-type model [Eqs. (59) and (60)]","x":8.5,"h":0.451},{"s":"1D Nowgu-type model [Eqs. (59) and (60)]","x":9,"h":0.45},{"s":"1D Nowgu-type model [Eqs. (59) and (60)]","x":10,"h":0.45}
    ],
    "exp": [
      {"s":"Experimental data (Stansby et al. 1998)","x":-9.88,"h":1.0},{"s":"Experimental data (Stansby et al. 1998)","x":-8.04,"h":0.967},{"s":"Experimental data (Stansby et al. 1998)","x":-7.04,"h":0.926},{"s":"Experimental data (Stansby et al. 1998)","x":-6.14,"h":0.895},{"s":"Experimental data (Stansby et al. 1998)","x":-5.07,"h":0.85},{"s":"Experimental data (Stansby et al. 1998)","x":-3.48,"h":0.75},{"s":"Experimental data (Stansby et al. 1998)","x":-2.33,"h":0.693},{"s":"Experimental data (Stansby et al. 1998)","x":-1.43,"h":0.662},{"s":"Experimental data (Stansby et al. 1998)","x":-0.85,"h":0.636},{"s":"Experimental data (Stansby et al. 1998)","x":-0.51,"h":0.667},{"s":"Experimental data (Stansby et al. 1998)","x":-0.27,"h":0.662},{"s":"Experimental data (Stansby et al. 1998)","x":0.04,"h":0.71},{"s":"Experimental data (Stansby et al. 1998)","x":0.73,"h":0.678},{"s":"Experimental data (Stansby et al. 1998)","x":0.92,"h":0.724},{"s":"Experimental data (Stansby et al. 1998)","x":1.19,"h":0.757},{"s":"Experimental data (Stansby et al. 1998)","x":1.58,"h":0.684},{"s":"Experimental data (Stansby et al. 1998)","x":2.11,"h":0.689},{"s":"Experimental data (Stansby et al. 1998)","x":2.68,"h":0.71},{"s":"Experimental data (Stansby et al. 1998)","x":3.23,"h":0.744},{"s":"Experimental data (Stansby et al. 1998)","x":3.93,"h":0.762},{"s":"Experimental data (Stansby et al. 1998)","x":4.7,"h":0.744},{"s":"Experimental data (Stansby et al. 1998)","x":4.97,"h":0.653},{"s":"Experimental data (Stansby et al. 1998)","x":5.23,"h":0.653},{"s":"Experimental data (Stansby et al. 1998)","x":5.69,"h":0.75},{"s":"Experimental data (Stansby et al. 1998)","x":6.03,"h":0.776},{"s":"Experimental data (Stansby et al. 1998)","x":6.45,"h":0.789},{"s":"Experimental data (Stansby et al. 1998)","x":6.62,"h":0.793},{"s":"Experimental data (Stansby et al. 1998)","x":6.71,"h":0.714},{"s":"Experimental data (Stansby et al. 1998)","x":6.81,"h":0.658},{"s":"Experimental data (Stansby et al. 1998)","x":7.13,"h":0.496},{"s":"Experimental data (Stansby et al. 1998)","x":7.71,"h":0.461}
    ]
  },
  "vconcat": [
    {
      "width": 687, "height": 386,
      "layer": [
        {"data": {"name": "bqa"}, "mark": {"type": "line", "strokeWidth": 3, "interpolate": "monotone"},
          "encoding": {
            "x": {"field": "x", "type": "quantitative", "scale": {"domain": [-10, 10], "nice": false},
              "axis": {"values": [-10,-9,-8,-7,-6,-5,-4,-3,-2,-1,0,1,2,3,4,5,6,7,8,9,10], "labels": false, "title": null, "labelOverlap": false, "tickSize": {"condition": {"test": "datum.value % 5 === 0", "value": 12}, "value": 7}}},
            "y": {"field": "h", "type": "quantitative", "scale": {"domain": [0.2, 1], "nice": false},
              "axis": {"values": [0.2,0.3,0.4,0.5,0.6,0.7,0.8,0.9,1], "title": "h/hᵤ", "labelOverlap": false, "labelExpr": "round(datum.value*10) % 2 === 0 ? format(datum.value, '~g') : ''", "tickSize": {"condition": {"test": "round(datum.value*10) % 2 === 0", "value": 12}, "value": 7}}},
            "stroke": {"field": "s", "type": "nominal", "title": "t = 0.76 s", "scale": {"domain": ["1D model, m=3","1D model, m=4","1D model, Boussinesq","Experimental data (Stansby et al. 1998)"], "range": ["#0000ff","#000000","#000000","#000000"]}},
            "strokeDash": {"field": "s", "type": "nominal", "title": "t = 0.76 s", "scale": {"domain": ["1D model, m=3","1D model, m=4","1D model, Boussinesq","Experimental data (Stansby et al. 1998)"], "range": [[1,0],[1,0],[3,2.5],[1,0]]}}
          }},
        {"data": {"name": "m4"}, "mark": {"type": "line", "strokeWidth": 3, "interpolate": "monotone"},
          "encoding": {
            "x": {"field": "x", "type": "quantitative", "scale": {"domain": [-10, 10], "nice": false},
              "axis": {"values": [-10,-9,-8,-7,-6,-5,-4,-3,-2,-1,0,1,2,3,4,5,6,7,8,9,10], "labels": false, "title": null, "labelOverlap": false, "tickSize": {"condition": {"test": "datum.value % 5 === 0", "value": 12}, "value": 7}}},
            "y": {"field": "h", "type": "quantitative", "scale": {"domain": [0.2, 1], "nice": false},
              "axis": {"values": [0.2,0.3,0.4,0.5,0.6,0.7,0.8,0.9,1], "title": "h/hᵤ", "labelOverlap": false, "labelExpr": "round(datum.value*10) % 2 === 0 ? format(datum.value, '~g') : ''", "tickSize": {"condition": {"test": "round(datum.value*10) % 2 === 0", "value": 12}, "value": 7}}},
            "stroke": {"field": "s", "type": "nominal", "title": "t = 0.76 s"},
            "strokeDash": {"field": "s", "type": "nominal", "title": "t = 0.76 s"}
          }},
        {"data": {"name": "m3a"}, "mark": {"type": "line", "strokeWidth": 3, "interpolate": "monotone"},
          "encoding": {
            "x": {"field": "x", "type": "quantitative", "scale": {"domain": [-10, 10], "nice": false},
              "axis": {"values": [-10,-9,-8,-7,-6,-5,-4,-3,-2,-1,0,1,2,3,4,5,6,7,8,9,10], "labels": false, "title": null, "labelOverlap": false, "tickSize": {"condition": {"test": "datum.value % 5 === 0", "value": 12}, "value": 7}}},
            "y": {"field": "h", "type": "quantitative", "scale": {"domain": [0.2, 1], "nice": false},
              "axis": {"values": [0.2,0.3,0.4,0.5,0.6,0.7,0.8,0.9,1], "title": "h/hᵤ", "labelOverlap": false, "labelExpr": "round(datum.value*10) % 2 === 0 ? format(datum.value, '~g') : ''", "tickSize": {"condition": {"test": "round(datum.value*10) % 2 === 0", "value": 12}, "value": 7}}},
            "stroke": {"field": "s", "type": "nominal", "title": "t = 0.76 s"},
            "strokeDash": {"field": "s", "type": "nominal", "title": "t = 0.76 s"}
          }},
        {"data": {"name": "exp"}, "mark": {"type": "point", "filled": false, "strokeWidth": 2.5, "size": 816, "opacity": 1},
          "encoding": {
            "x": {"field": "x", "type": "quantitative", "scale": {"domain": [-10, 10], "nice": false},
              "axis": {"values": [-10,-9,-8,-7,-6,-5,-4,-3,-2,-1,0,1,2,3,4,5,6,7,8,9,10], "labels": false, "title": null, "labelOverlap": false, "tickSize": {"condition": {"test": "datum.value % 5 === 0", "value": 12}, "value": 7}}},
            "y": {"field": "h", "type": "quantitative", "scale": {"domain": [0.2, 1], "nice": false},
              "axis": {"values": [0.2,0.3,0.4,0.5,0.6,0.7,0.8,0.9,1], "title": "h/hᵤ", "labelOverlap": false, "labelExpr": "round(datum.value*10) % 2 === 0 ? format(datum.value, '~g') : ''", "tickSize": {"condition": {"test": "round(datum.value*10) % 2 === 0", "value": 12}, "value": 7}}},
            "stroke": {"field": "s", "type": "nominal", "title": "t = 0.76 s"},
            "shape": {"field": "s", "type": "nominal", "title": "t = 0.76 s", "scale": {"domain": ["1D model, m=3","1D model, m=4","1D model, Boussinesq","Experimental data (Stansby et al. 1998)"], "range": ["M-1,0H1","M-1,0H1","M-1,0H1","M-0.35,-0.35H0.35V0.35H-0.35Z"]}}
          }},
        {"data": {"values": [{"lab": "(a)"}]}, "mark": {"type": "text", "font": "Liberation Serif", "fontSize": 32, "fill": "black", "align": "center", "baseline": "middle", "dx": -92, "dy": 14, "clip": false},
          "encoding": {
            "x": {"datum": -10, "type": "quantitative", "scale": {"domain": [-10, 10], "nice": false},
              "axis": {"values": [-10,-9,-8,-7,-6,-5,-4,-3,-2,-1,0,1,2,3,4,5,6,7,8,9,10], "labels": false, "title": null, "labelOverlap": false, "tickSize": {"condition": {"test": "datum.value % 5 === 0", "value": 12}, "value": 7}}},
            "y": {"datum": 1, "type": "quantitative", "scale": {"domain": [0.2, 1], "nice": false},
              "axis": {"values": [0.2,0.3,0.4,0.5,0.6,0.7,0.8,0.9,1], "title": "h/hᵤ", "labelOverlap": false, "labelExpr": "round(datum.value*10) % 2 === 0 ? format(datum.value, '~g') : ''", "tickSize": {"condition": {"test": "round(datum.value*10) % 2 === 0", "value": 12}, "value": 7}}},
            "text": {"field": "lab", "type": "nominal"}}}
      ]
    },
    {
      "width": 687, "height": 384,
      "layer": [
        {"data": {"name": "bqb"}, "mark": {"type": "line", "strokeWidth": 3, "interpolate": "monotone"},
          "encoding": {
            "x": {"field": "x", "type": "quantitative", "scale": {"domain": [-10, 10], "nice": false},
              "axis": {"values": [-10,-9,-8,-7,-6,-5,-4,-3,-2,-1,0,1,2,3,4,5,6,7,8,9,10], "labels": false, "title": null, "labelOverlap": false, "tickSize": {"condition": {"test": "datum.value % 5 === 0", "value": 12}, "value": 7}}},
            "y": {"field": "h", "type": "quantitative", "scale": {"domain": [0.2, 1], "nice": false},
              "axis": {"values": [0.2,0.3,0.4,0.5,0.6,0.7,0.8,0.9,1], "title": "h/hᵤ", "labelOverlap": false, "labelExpr": "round(datum.value*10) % 2 === 0 ? format(datum.value, '~g') : ''", "tickSize": {"condition": {"test": "round(datum.value*10) % 2 === 0", "value": 12}, "value": 7}}},
            "stroke": {"field": "s", "type": "nominal", "title": "t = 0.76 s", "scale": {"domain": ["1D model, Eq. (9), m=3","1D model, Eq. (9), m=4","1D model, Eq. (9), Boussinesq"], "range": ["#0000ff","#000000","#000000"]}, "legend": {"symbolType": "stroke"}},
            "strokeDash": {"field": "s", "type": "nominal", "title": "t = 0.76 s", "scale": {"domain": ["1D model, Eq. (9), m=3","1D model, Eq. (9), m=4","1D model, Eq. (9), Boussinesq"], "range": [[1,0],[1,0],[3,2.5]]}, "legend": {"symbolType": "stroke"}}
          }},
        {"data": {"name": "m4b"}, "mark": {"type": "line", "strokeWidth": 3, "interpolate": "monotone"},
          "encoding": {
            "x": {"field": "x", "type": "quantitative", "scale": {"domain": [-10, 10], "nice": false},
              "axis": {"values": [-10,-9,-8,-7,-6,-5,-4,-3,-2,-1,0,1,2,3,4,5,6,7,8,9,10], "labels": false, "title": null, "labelOverlap": false, "tickSize": {"condition": {"test": "datum.value % 5 === 0", "value": 12}, "value": 7}}},
            "y": {"field": "h", "type": "quantitative", "scale": {"domain": [0.2, 1], "nice": false},
              "axis": {"values": [0.2,0.3,0.4,0.5,0.6,0.7,0.8,0.9,1], "title": "h/hᵤ", "labelOverlap": false, "labelExpr": "round(datum.value*10) % 2 === 0 ? format(datum.value, '~g') : ''", "tickSize": {"condition": {"test": "round(datum.value*10) % 2 === 0", "value": 12}, "value": 7}}},
            "stroke": {"field": "s", "type": "nominal", "title": "t = 0.76 s"},
            "strokeDash": {"field": "s", "type": "nominal", "title": "t = 0.76 s"}
          }},
        {"data": {"name": "m3b"}, "mark": {"type": "line", "strokeWidth": 3, "interpolate": "monotone"},
          "encoding": {
            "x": {"field": "x", "type": "quantitative", "scale": {"domain": [-10, 10], "nice": false},
              "axis": {"values": [-10,-9,-8,-7,-6,-5,-4,-3,-2,-1,0,1,2,3,4,5,6,7,8,9,10], "labels": false, "title": null, "labelOverlap": false, "tickSize": {"condition": {"test": "datum.value % 5 === 0", "value": 12}, "value": 7}}},
            "y": {"field": "h", "type": "quantitative", "scale": {"domain": [0.2, 1], "nice": false},
              "axis": {"values": [0.2,0.3,0.4,0.5,0.6,0.7,0.8,0.9,1], "title": "h/hᵤ", "labelOverlap": false, "labelExpr": "round(datum.value*10) % 2 === 0 ? format(datum.value, '~g') : ''", "tickSize": {"condition": {"test": "round(datum.value*10) % 2 === 0", "value": 12}, "value": 7}}},
            "stroke": {"field": "s", "type": "nominal", "title": "t = 0.76 s"},
            "strokeDash": {"field": "s", "type": "nominal", "title": "t = 0.76 s"}
          }},
        {"data": {"name": "exp"}, "mark": {"type": "point", "filled": false, "strokeWidth": 2.5, "size": 816, "opacity": 1, "stroke": "black", "shape": "M-0.35,-0.35H0.35V0.35H-0.35Z"},
          "encoding": {
            "x": {"field": "x", "type": "quantitative", "scale": {"domain": [-10, 10], "nice": false},
              "axis": {"values": [-10,-9,-8,-7,-6,-5,-4,-3,-2,-1,0,1,2,3,4,5,6,7,8,9,10], "labels": false, "title": null, "labelOverlap": false, "tickSize": {"condition": {"test": "datum.value % 5 === 0", "value": 12}, "value": 7}}},
            "y": {"field": "h", "type": "quantitative", "scale": {"domain": [0.2, 1], "nice": false},
              "axis": {"values": [0.2,0.3,0.4,0.5,0.6,0.7,0.8,0.9,1], "title": "h/hᵤ", "labelOverlap": false, "labelExpr": "round(datum.value*10) % 2 === 0 ? format(datum.value, '~g') : ''", "tickSize": {"condition": {"test": "round(datum.value*10) % 2 === 0", "value": 12}, "value": 7}}}
          }},
        {"data": {"values": [{"lab": "(b)"}]}, "mark": {"type": "text", "font": "Liberation Serif", "fontSize": 32, "fill": "black", "align": "center", "baseline": "middle", "dx": -92, "dy": 14, "clip": false},
          "encoding": {
            "x": {"datum": -10, "type": "quantitative", "scale": {"domain": [-10, 10], "nice": false},
              "axis": {"values": [-10,-9,-8,-7,-6,-5,-4,-3,-2,-1,0,1,2,3,4,5,6,7,8,9,10], "labels": false, "title": null, "labelOverlap": false, "tickSize": {"condition": {"test": "datum.value % 5 === 0", "value": 12}, "value": 7}}},
            "y": {"datum": 1, "type": "quantitative", "scale": {"domain": [0.2, 1], "nice": false},
              "axis": {"values": [0.2,0.3,0.4,0.5,0.6,0.7,0.8,0.9,1], "title": "h/hᵤ", "labelOverlap": false, "labelExpr": "round(datum.value*10) % 2 === 0 ? format(datum.value, '~g') : ''", "tickSize": {"condition": {"test": "round(datum.value*10) % 2 === 0", "value": 12}, "value": 7}}},
            "text": {"field": "lab", "type": "nominal"}}}
      ]
    },
    {
      "width": 687, "height": 384,
      "layer": [
        {"data": {"name": "red"}, "mark": {"type": "line", "strokeWidth": 3, "interpolate": "monotone"},
          "encoding": {
            "x": {"field": "x", "type": "quantitative", "scale": {"domain": [-10, 10], "nice": false},
              "axis": {"values": [-10,-9,-8,-7,-6,-5,-4,-3,-2,-1,0,1,2,3,4,5,6,7,8,9,10], "title": "x/hᵤ", "labelOverlap": false, "labelExpr": "datum.value % 5 === 0 ? '' + datum.value : ''", "labelPadding": 13, "titlePadding": 9, "tickSize": {"condition": {"test": "datum.value % 5 === 0", "value": 12}, "value": 7}}},
            "y": {"field": "h", "type": "quantitative", "scale": {"domain": [0.2, 1], "nice": false},
              "axis": {"values": [0.2,0.3,0.4,0.5,0.6,0.7,0.8,0.9,1], "title": "h/hᵤ", "labelOverlap": false, "labelExpr": "round(datum.value*10) % 2 === 0 ? format(datum.value, '~g') : ''", "tickSize": {"condition": {"test": "round(datum.value*10) % 2 === 0", "value": 12}, "value": 7}}},
            "stroke": {"field": "s", "type": "nominal", "title": "t = 0.76 s", "scale": {"domain": ["1D model, m=4","1D Nowgu-type model [Eqs. (59) and (60)]"], "range": ["#000000","#ff0000"]}, "legend": {"symbolType": "stroke"}}
          }},
        {"data": {"name": "m4"}, "mark": {"type": "line", "strokeWidth": 3, "interpolate": "monotone"},
          "encoding": {
            "x": {"field": "x", "type": "quantitative", "scale": {"domain": [-10, 10], "nice": false},
              "axis": {"values": [-10,-9,-8,-7,-6,-5,-4,-3,-2,-1,0,1,2,3,4,5,6,7,8,9,10], "title": "x/hᵤ", "labelOverlap": false, "labelExpr": "datum.value % 5 === 0 ? '' + datum.value : ''", "labelPadding": 13, "titlePadding": 9, "tickSize": {"condition": {"test": "datum.value % 5 === 0", "value": 12}, "value": 7}}},
            "y": {"field": "h", "type": "quantitative", "scale": {"domain": [0.2, 1], "nice": false},
              "axis": {"values": [0.2,0.3,0.4,0.5,0.6,0.7,0.8,0.9,1], "title": "h/hᵤ", "labelOverlap": false, "labelExpr": "round(datum.value*10) % 2 === 0 ? format(datum.value, '~g') : ''", "tickSize": {"condition": {"test": "round(datum.value*10) % 2 === 0", "value": 12}, "value": 7}}},
            "stroke": {"field": "s", "type": "nominal", "title": "t = 0.76 s"}
          }},
        {"data": {"name": "exp"}, "mark": {"type": "point", "filled": false, "strokeWidth": 2.5, "size": 816, "opacity": 1, "stroke": "black", "shape": "M-0.35,-0.35H0.35V0.35H-0.35Z"},
          "encoding": {
            "x": {"field": "x", "type": "quantitative", "scale": {"domain": [-10, 10], "nice": false},
              "axis": {"values": [-10,-9,-8,-7,-6,-5,-4,-3,-2,-1,0,1,2,3,4,5,6,7,8,9,10], "title": "x/hᵤ", "labelOverlap": false, "labelExpr": "datum.value % 5 === 0 ? '' + datum.value : ''", "labelPadding": 13, "titlePadding": 9, "tickSize": {"condition": {"test": "datum.value % 5 === 0", "value": 12}, "value": 7}}},
            "y": {"field": "h", "type": "quantitative", "scale": {"domain": [0.2, 1], "nice": false},
              "axis": {"values": [0.2,0.3,0.4,0.5,0.6,0.7,0.8,0.9,1], "title": "h/hᵤ", "labelOverlap": false, "labelExpr": "round(datum.value*10) % 2 === 0 ? format(datum.value, '~g') : ''", "tickSize": {"condition": {"test": "round(datum.value*10) % 2 === 0", "value": 12}, "value": 7}}}
          }},
        {"data": {"values": [{"lab": "(c)"}]}, "mark": {"type": "text", "font": "Liberation Serif", "fontSize": 32, "fill": "black", "align": "center", "baseline": "middle", "dx": -92, "dy": 14, "clip": false},
          "encoding": {
            "x": {"datum": -10, "type": "quantitative", "scale": {"domain": [-10, 10], "nice": false},
              "axis": {"values": [-10,-9,-8,-7,-6,-5,-4,-3,-2,-1,0,1,2,3,4,5,6,7,8,9,10], "title": "x/hᵤ", "labelOverlap": false, "labelExpr": "datum.value % 5 === 0 ? '' + datum.value : ''", "labelPadding": 13, "titlePadding": 9, "tickSize": {"condition": {"test": "datum.value % 5 === 0", "value": 12}, "value": 7}}},
            "y": {"datum": 1, "type": "quantitative", "scale": {"domain": [0.2, 1], "nice": false},
              "axis": {"values": [0.2,0.3,0.4,0.5,0.6,0.7,0.8,0.9,1], "title": "h/hᵤ", "labelOverlap": false, "labelExpr": "round(datum.value*10) % 2 === 0 ? format(datum.value, '~g') : ''", "tickSize": {"condition": {"test": "round(datum.value*10) % 2 === 0", "value": 12}, "value": 7}}},
            "text": {"field": "lab", "type": "nominal"}}}
      ]
    }
  ],
  "config": {
    "view": {"stroke": "black", "strokeWidth": 1.5},
    "axis": {
      "grid": false, "domainColor": "black", "domainWidth": 1.5, "tickColor": "black", "tickWidth": 1.5,
      "labelFont": "Liberation Serif", "labelFontSize": 30, "labelColor": "black", "labelFlush": false, "labelOverlap": false, "labelBound": false,
      "titleFont": "Liberation Serif, DejaVu Serif", "titleFontSize": 32, "titleFontWeight": "normal", "titleFontStyle": "italic", "titleColor": "black"
    },
    "axisY": {"labelPadding": 22, "titlePadding": 19},
    "legend": {
      "orient": "bottom-left", "offset": 6, "padding": 0,
      "titleFont": "Liberation Serif", "titleFontSize": 33, "titleFontWeight": "normal", "titleColor": "black", "titlePadding": 12, "titleLimit": 2000,
      "labelFont": "Liberation Serif", "labelFontSize": 30, "labelColor": "black", "labelOffset": 20, "labelLimit": 2000,
      "symbolSize": 900, "symbolStrokeWidth": 3, "rowPadding": 16, "symbolFillColor": "transparent"
    }
  }
}
